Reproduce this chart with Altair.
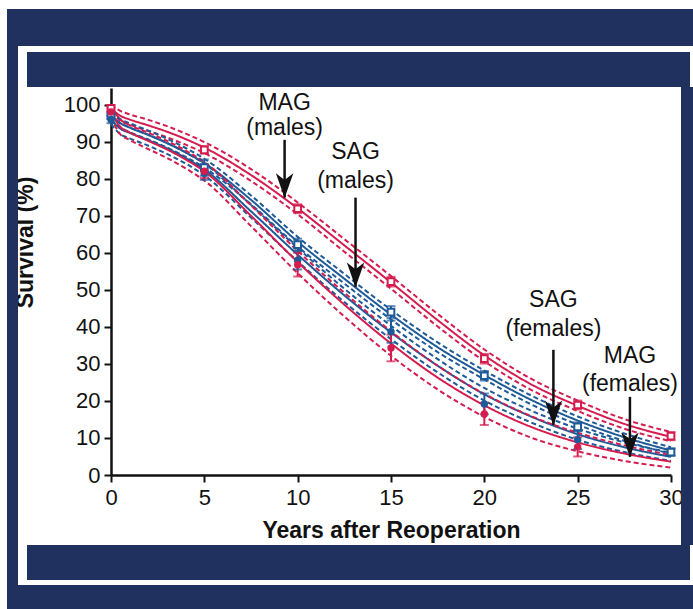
import altair as alt
import pandas as pd

# ---- survival estimates (%), read at these follow-up years ----
years = [0, 0.5, 1, 2, 3, 4, 5, 7.5, 10, 12.5, 15, 17.5, 20, 22.5, 25, 27.5, 30]

mag_m_est = [99, 97, 96, 94.4, 92.7, 90.7, 88.4, 81, 72, 62, 52, 41.8, 32.3, 24.5, 18.7, 13.8, 10.3]
mag_m_hi = [100, 98.3, 97.4, 95.9, 94.2, 92.2, 89.9, 82.6, 73.6, 63.7, 53.7, 43.5, 33.9, 26, 20.1, 15.1, 11.6]
mag_m_lo = [98, 95.7, 94.6, 92.9, 91.2, 89.2, 86.9, 79.4, 70.4, 60.3, 50.3, 40.1, 30.7, 23, 17.3, 12.5, 9.1]

sag_m_est = [97, 95, 93.8, 91.8, 89.6, 87.1, 84.2, 74.3, 63, 53, 43.3, 34.5, 27, 20.3, 14.7, 10.2, 6.6]
sag_m_hi = [98, 96.1, 95, 93, 90.8, 88.3, 85.4, 75.5, 64.3, 54.3, 44.6, 35.8, 28.2, 21.5, 15.8, 11.2, 7.5]
sag_m_lo = [96, 93.9, 92.6, 90.6, 88.4, 85.9, 83, 73.1, 61.7, 51.7, 42, 33.2, 25.8, 19.1, 13.6, 9.2, 5.7]

sag_f_est = [96, 93.5, 92.4, 90.4, 88.2, 85.6, 82.5, 71.2, 59.5, 48.5, 38.5, 29.5, 21.8, 15.8, 11, 7.5, 4.9]
sag_f_hi = [97.2, 95, 93.9, 91.9, 89.7, 87.1, 84.1, 72.9, 61.3, 50.3, 40.3, 31.3, 23.5, 17.4, 12.5, 8.8, 6]
sag_f_lo = [94.8, 92, 90.9, 88.9, 86.7, 84.1, 80.9, 69.5, 57.7, 46.7, 36.7, 27.7, 20.1, 14.2, 9.5, 6.2, 3.8]

mag_f_est = [98, 94, 92.5, 90.2, 87.9, 85.2, 82, 70, 57.5, 46, 35.5, 26.3, 18.8, 13, 8.8, 5.8, 3.6]
mag_f_hi = [99.5, 96, 94.5, 92.4, 90.2, 87.6, 84.5, 72.8, 60.5, 49.2, 38.8, 29.5, 21.9, 15.9, 11.4, 8, 5.4]
mag_f_lo = [96.5, 92, 90.5, 88, 85.6, 82.8, 79.5, 67.2, 54.5, 42.8, 32.2, 23.1, 15.7, 10.1, 6.4, 3.8, 2]

# ---- observed survival with confidence limits ----
pt_years = [0, 5, 10, 15, 20, 25, 30]
mag_m_pt = [99, 87.8, 71.9, 52.2, 31.4, 18.9, 10.5]
mag_m_err = [0.8, 1.0, 1.2, 1.3, 1.3, 1.2, 1.1]
sag_m_pt = [97, 83, 62.2, 44, 26.8, 13, 6.2]
sag_m_err = [0.8, 2.2, 1.6, 1.6, 1.3, 1.2, 1.0]
fem_years = [0, 5, 10, 15, 20, 25]
sag_f_pt = [96, 81.5, 58, 38.7, 19.2, 9.5]
sag_f_err = [1.0, 1.8, 2.5, 3.0, 2.8, 2.5]
mag_f_pt = [98, 82, 56.8, 34.3, 16.5, 7.6]
mag_f_err = [1.0, 1.8, 3.2, 3.6, 3.0, 2.6]

# ---- curve annotations: label lines and arrow shafts ----
ann_groups = ["MAG (males)", "SAG (males)", "SAG (females)", "MAG (females)"]
ann_x = [9.3, 13.1, 23.7, 27.8]
ann_line1 = ["MAG", "SAG", "SAG", "MAG"]
ann_line2 = ["(males)", "(males)", "(females)", "(females)"]
ann_y1 = [100.5, 87.3, 47.3, 32.2]
ann_y2 = [93.6, 79.5, 39.5, 24.7]
arrow_top = [90.5, 74.9, 33.8, 21.1]
arrow_tip = [74.9, 50.8, 13.5, 4.9]

RED = "#d41c4e"
BLUE = "#1d5a97"
NAVY = "#21315f"
FONT = "Liberation Sans"

curves = []
for grp, est, lo, hi in [
    ("MAG (males)", mag_m_est, mag_m_lo, mag_m_hi),
    ("SAG (males)", sag_m_est, sag_m_lo, sag_m_hi),
    ("SAG (females)", sag_f_est, sag_f_lo, sag_f_hi),
    ("MAG (females)", mag_f_est, mag_f_lo, mag_f_hi),
]:
    for kind, vals in [("estimate", est), ("lower", lo), ("upper", hi)]:
        for yr, v in zip(years, vals):
            curves.append({"group": grp, "kind": kind, "line": grp + kind, "year": yr, "surv": v})
curves = pd.DataFrame(curves)

pts = []
for grp, xs, vals, errs, shape in [
    ("MAG (males)", pt_years, mag_m_pt, mag_m_err, "square"),
    ("SAG (males)", pt_years, sag_m_pt, sag_m_err, "square"),
    ("SAG (females)", fem_years, sag_f_pt, sag_f_err, "circle"),
    ("MAG (females)", fem_years, mag_f_pt, mag_f_err, "circle"),
]:
    for yr, v, e in zip(xs, vals, errs):
        pts.append({"group": grp, "shape": shape, "year": yr, "surv": v,
                    "lo": v - e, "hi": v + e})
pts = pd.DataFrame(pts)

ann = pd.DataFrame({"group": ann_groups, "x": ann_x, "l1": ann_line1, "l2": ann_line2,
                    "y1": ann_y1, "y2": ann_y2, "top": arrow_top, "tip": arrow_tip})

W, H = 560, 387
OX, OY = 111, 88  # plot origin inside the 693x609 canvas

xs = alt.Scale(domain=[0, 30], nice=False)
ys = alt.Scale(domain=[0, 104.5], nice=False)
color = alt.Scale(domain=ann_groups, range=[RED, BLUE, BLUE, RED])

axis_common = dict(labelFontSize=22, titleFontSize=23, titleFontWeight="bold",
                   labelFont=FONT, titleFont=FONT, labelColor="#111", titleColor="#111",
                   tickSize=7, tickWidth=2, tickColor="#111", domainColor="#111",
                   domainWidth=2.5, grid=False, labelOverlap=False)
x_axis = alt.Axis(values=[0, 5, 10, 15, 20, 25, 30], title="Years after Reoperation",
                  labelPadding=5, titlePadding=11, labelFlush=False, **axis_common)
y_axis = alt.Axis(values=[0, 10, 20, 30, 40, 50, 60, 70, 80, 90, 100], title="Survival (%)",
                  labelPadding=4, titleX=-74, titleY=154, **axis_common)


# every layer shares the same scales and the same axis definitions
def X(field):
    return alt.X(field, scale=xs, axis=x_axis)


def Y(field):
    return alt.Y(field, scale=ys, axis=y_axis)


def box(x0, y0, x1, y1, fill):
    # a filled panel given in canvas pixels
    return alt.Chart().mark_rect(color=fill).encode(
        x=alt.value(x0 - OX), x2=alt.value(x1 - OX),
        y=alt.value(y0 - OY), y2=alt.value(y1 - OY))


grp_color = alt.Color("group:N", scale=color, legend=None)

lines = alt.Chart(curves).mark_line(interpolate="monotone", strokeWidth=2).encode(
    x=X("year:Q"), y=Y("surv:Q"), color=grp_color,
    strokeDash=alt.StrokeDash("kind:N", scale=alt.Scale(
        domain=["estimate", "lower", "upper"], range=[[1, 0], [5, 3], [5, 3]]), legend=None),
    detail="line:N",
)

bars = alt.Chart(pts).mark_rule(strokeWidth=2).encode(
    x=X("year:Q"), y=Y("lo:Q"), y2="hi:Q", color=grp_color)
caps_lo = alt.Chart(pts).mark_tick(orient="horizontal", size=9, thickness=2).encode(
    x=X("year:Q"), y=Y("lo:Q"), color=grp_color)
caps_hi = alt.Chart(pts).mark_tick(orient="horizontal", size=9, thickness=2).encode(
    x=X("year:Q"), y=Y("hi:Q"), color=grp_color)

squares = alt.Chart(pts).transform_filter(alt.datum.shape == "square").mark_point(
    shape="square", filled=True, fill="white", strokeWidth=2, size=45, opacity=1).encode(
    x=X("year:Q"), y=Y("surv:Q"), stroke=alt.Stroke("group:N", scale=color, legend=None))
circles = alt.Chart(pts).transform_filter(alt.datum.shape == "circle").mark_point(
    shape="circle", filled=True, size=55, opacity=1).encode(
    x=X("year:Q"), y=Y("surv:Q"), color=grp_color)

text_style = dict(font=FONT, fontSize=23, color="#111", align="center", baseline="middle")
lab1 = alt.Chart(ann).mark_text(**text_style).encode(x=X("x:Q"), y=Y("y1:Q"), text="l1:N")
lab2 = alt.Chart(ann).mark_text(**text_style).encode(x=X("x:Q"), y=Y("y2:Q"), text="l2:N")
shafts = alt.Chart(ann).mark_rule(color="#111", strokeWidth=2.5).encode(
    x=X("x:Q"), y=Y("top:Q"), y2="tip:Q")
heads = alt.Chart(ann).mark_point(
    shape="M0,1 L-0.7,-1 L0,-0.45 L0.7,-1 Z", filled=True, color="#111",
    size=620, opacity=1, yOffset=-12).encode(x=X("x:Q"), y=Y("tip:Q"))

frame = [
    box(7, 9, 693, 46, NAVY),
    box(7, 9, 18, 609, NAVY),
    box(7, 585, 693, 609, NAVY),
    box(681, 87, 693, 545, NAVY),
    box(27, 52, 690, 87, NAVY),
    box(27, 545, 690, 580, NAVY),
]

chart = alt.layer(
    lines, bars, caps_lo, caps_hi, squares, circles,
    shafts, heads, lab1, lab2, *frame,
).properties(
    width=W, height=H, background="white",
    autosize=alt.AutoSizeParams(type="none"),
    padding={"left": OX, "top": OY, "right": 693 - OX - W, "bottom": 609 - OY - H},
).configure_view(stroke=None)

chart.save("out.html", embed_options={"renderer": "svg", "actions": False})
